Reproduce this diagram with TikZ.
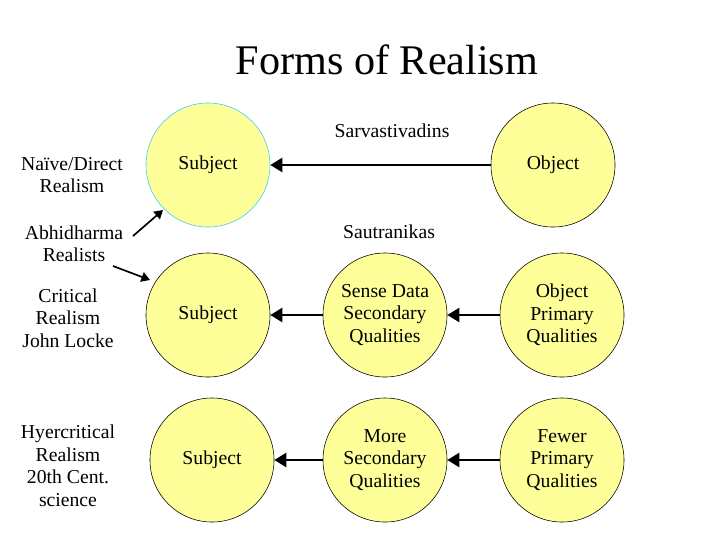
\documentclass[tikz,border=0pt]{standalone}
\usepackage{fontspec}
\setmainfont{Liberation Serif}
\usetikzlibrary{arrows.meta}
\definecolor{pale}{RGB}{255,255,153}
\definecolor{rim}{RGB}{51,204,255}
\begin{document}
\begin{tikzpicture}[x=0.025cm, y=-0.025cm, >=Triangle, font=\fontsize{14}{16}\selectfont]
\tikzset{
  ball/.style={circle, draw=black, fill=pale, minimum size=3.1cm, inner sep=0pt, align=center},
  link/.style={->, line width=2pt},
  side/.style={align=center}
}
\useasboundingbox (0,0) rectangle (720,540);
% Title
\node[font=\fontsize{30}{34}\selectfont] (title) at (387,60) {Forms of Realism};
% Circles
\node[ball, draw=rim] (s1) at (208,165) {Subject};
\node[ball] (o1) at (553,165) {Object};
\node[ball] (s2) at (208,315) {Subject};
\node[ball] (m2) at (385,315) {Sense Data\\Secondary\\Qualities};
\node[ball] (o2) at (562,315) {Object\\Primary\\Qualities};
\node[ball] (s3) at (212,460) {Subject};
\node[ball] (m3) at (385,460) {More\\Secondary\\Qualities};
\node[ball] (o3) at (562,460) {Fewer\\Primary\\Qualities};
% Connectors
\draw[link] (o1) -- (s1);
\draw[link] (m2) -- (s2);
\draw[link] (o2) -- (m2);
\draw[link] (m3) -- (s3);
\draw[link] (o3) -- (m3);
% Labels
\node (sarva) at (392,131) {Sarvastivadins};
\node (sautra) at (389,232) {Sautranikas};
\node[side] (naive) at (72,175) {Naïve/Direct\\Realism};
\node[side] (abhi) at (74,244) {Abhidharma\\Realists};
\node[side] (crit) at (68,318) {Critical\\Realism\\John Locke};
\node[side] (hyper) at (68,466) {Hyercritical\\Realism\\20th Cent.\\science};
\coordinate (a1) at (163,210);
\coordinate (a2) at (150,280);
\draw[->, line width=1.2pt] (133,236) -- (a1);
\draw[->, line width=1.2pt] (113,266) -- (a2);
\end{tikzpicture}
\end{document}
